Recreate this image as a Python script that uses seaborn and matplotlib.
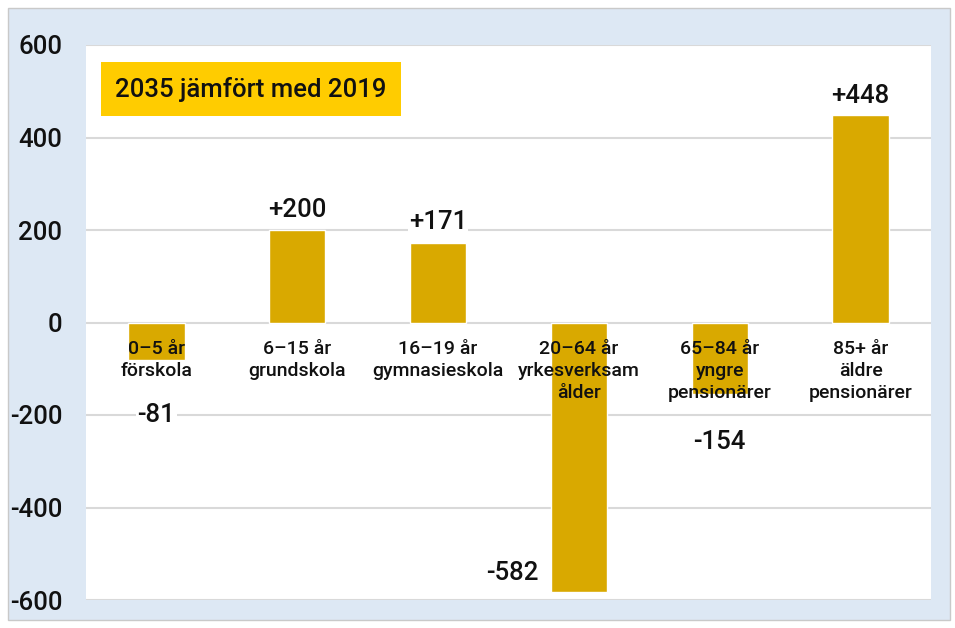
import matplotlib
matplotlib.use("Agg")
import matplotlib.pyplot as plt
import seaborn as sns
import pandas as pd
from matplotlib.patches import Rectangle

categories = ["0–5 år\nförskola", "6–15 år\ngrundskola", "16–19 år\ngymnasieskola",
              "20–64 år\nyrkesverksam\nålder", "65–84 år\nyngre\npensionärer",
              "85+ år\näldre\npensionärer"]
values = [-81, 200, 171, -582, -154, 448]
value_labels = ["-81", "+200", "+171", "-582", "-154", "+448"]
yticks = [-600, -400, -200, 0, 200, 400, 600]
title_text = "2035 jämfört med 2019"

sns.set_theme(style="white")
plt.rcParams['font.family'] = ['Roboto', 'DejaVu Sans']
plt.rcParams['axes.unicode_minus'] = False

BAR = "#d9a900"
BG = "#dde8f4"

fig = plt.figure(figsize=(9.55, 6.28), dpi=100, facecolor="white")
bgrect = Rectangle((8/955, 1-620/628), 942/955, 612/628, transform=fig.transFigure,
                   facecolor=BG, edgecolor="#c9c9c9", lw=1, zorder=-10)
fig.add_artist(bgrect)
ax = fig.add_axes([86/955, 1-600/628, 845/955, 555/628])
ax.set_zorder(1)
ax.set_facecolor("white")

df = pd.DataFrame({"cat": categories, "val": values})
sns.barplot(data=df, x="cat", y="val", color=BAR, width=0.4, saturation=1, ax=ax, zorder=3)

ax.set_ylim(-600, 600)
ax.set_xlim(-0.5, len(categories) - 0.5)
ax.set_yticks(yticks)
ax.set_yticklabels([str(t) for t in yticks], fontsize=18.5, fontweight=500, color="#111111")
ax.tick_params(axis="y", length=0, pad=17)
ax.set_xticks([])
ax.set_xlabel("")
ax.set_ylabel("")
for s in ax.spines.values():
    s.set_visible(False)
for t in yticks:
    ax.axhline(t, color="#d9d9d9", lw=1.5, zorder=1)

# category labels just below zero line
for i, c in enumerate(categories):
    ax.annotate(c, xy=(i, 0), xytext=(0, -17), textcoords="offset pixels",
                ha="center", va="top", fontsize=14, fontweight=500, color="#111111",
                linespacing=1.32, zorder=5)

# value labels
offsets = {0: (0, -55), 1: (0, 20), 2: (0, 21), 3: (-67, 19), 4: (0, -48), 5: (0, 19)}
for i, (v, lab) in enumerate(zip(values, value_labels)):
    dx, dy = offsets[i]
    ax.annotate(lab, xy=(i, v), xytext=(dx, dy), textcoords="offset pixels",
                ha="center", va="center", fontsize=18.5, fontweight=500, color="#111111",
                zorder=6, bbox=dict(facecolor="white", edgecolor="none", pad=1))

# title box
fig.text(251/955, 1-89/628, title_text, ha="center", va="center", fontsize=18.5,
         fontweight=500, color="#111111", zorder=10,
         bbox=dict(boxstyle="square,pad=0.55", facecolor="#ffcc00", edgecolor="none"))

fig.savefig("out.png", dpi=100, facecolor="white")
